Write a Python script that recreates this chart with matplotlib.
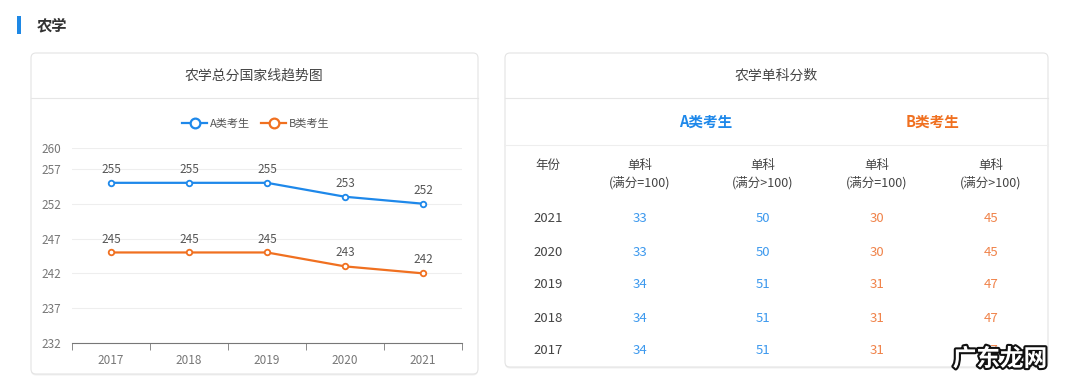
import matplotlib
matplotlib.use("Agg")
import matplotlib.pyplot as plt
from matplotlib.patches import FancyBboxPatch, Rectangle
from matplotlib.lines import Line2D
import matplotlib.patheffects as pe

plt.rcParams['font.family'] = ['Noto Sans CJK SC', 'DejaVu Sans']

# ---------------- 数据 ----------------
years = ['2017', '2018', '2019', '2020', '2021']
a_total = [255, 255, 255, 253, 252]
b_total = [245, 245, 245, 243, 242]
y_ticks = [232, 237, 242, 247, 252, 257, 260]

table_years = ['2021', '2020', '2019', '2018', '2017']
a_full100 = [33, 33, 34, 34, 34]
a_over100 = [50, 50, 51, 51, 51]
b_full100 = [30, 30, 31, 31, 31]
b_over100 = [45, 45, 47, 47, 47]

BLUE = '#1e88ea'
ORANGE = '#f07020'
BLUE_T = '#3d99ee'
ORANGE_T = '#f0834a'

W, H = 1080, 391
fig = plt.figure(figsize=(W / 100, H / 100), dpi=100)
fig.patch.set_facecolor('white')

# 背景层：像素坐标，原点左上
bg = fig.add_axes([0, 0, 1, 1])
bg.set_xlim(0, W)
bg.set_ylim(H, 0)
bg.axis('off')

# 小标题
bg.add_patch(Rectangle((17, 16), 4, 18, color='#1e88e5', lw=0))
bg.text(37, 25, '农学', fontsize=11, fontweight='bold', color='#333333', va='center')


def card(x0, y0, x1, y1):
    """带浅阴影的圆角卡片"""
    bg.add_patch(FancyBboxPatch((x0, y0 + 1.5), x1 - x0, y1 - y0, boxstyle='round,pad=0,rounding_size=5',
                                fc='#f0f0f0', ec='none', zorder=1))
    bg.add_patch(FancyBboxPatch((x0, y0), x1 - x0, y1 - y0, boxstyle='round,pad=0,rounding_size=5',
                                fc='white', ec='#e4e4e4', lw=0.8, zorder=2))


card(31, 53, 478, 374)
card(505, 53, 1048, 367)

# 左卡片标题
bg.text(254, 76, '农学总分国家线趋势图', fontsize=10, color='#444444', ha='center', va='center', zorder=3)
bg.plot([31, 478], [98, 98], color='#e6e6e6', lw=0.8, zorder=3)

# 右卡片：表格
bg.text(776, 76, '农学单科分数', fontsize=10, color='#444444', ha='center', va='center', zorder=3)
bg.plot([505, 1048], [98, 98], color='#e6e6e6', lw=0.8, zorder=3)
bg.plot([505, 1048], [145, 145], color='#eeeeee', lw=0.8, zorder=3)
bg.text(706, 122, 'A类考生', fontsize=10.5, fontweight='bold', color=BLUE, ha='center', va='center', zorder=3)
bg.text(933, 122, 'B类考生', fontsize=10.5, fontweight='bold', color=ORANGE, ha='center', va='center', zorder=3)

col_x = [548, 640, 763, 877, 991]
bg.text(col_x[0], 165, '年份', fontsize=9, color='#444444', ha='center', va='center', zorder=3)
sub = ['(满分=100)', '(满分>100)', '(满分=100)', '(满分>100)']
for cx, s in zip(col_x[1:], sub):
    bg.text(cx, 165, '单科', fontsize=9, color='#444444', ha='center', va='center', zorder=3)
    bg.text(cx, 183, s, fontsize=9, color='#444444', ha='center', va='center', zorder=3)

row_y = [218, 252, 285, 318, 351]
for i, ry in enumerate(row_y):
    bg.text(col_x[0], ry, table_years[i], fontsize=9.5, color='#444444', ha='center', va='center', zorder=3)
    bg.text(col_x[1], ry, str(a_full100[i]), fontsize=9.5, color=BLUE_T, ha='center', va='center', zorder=3)
    bg.text(col_x[2], ry, str(a_over100[i]), fontsize=9.5, color=BLUE_T, ha='center', va='center', zorder=3)
    bg.text(col_x[3], ry, str(b_full100[i]), fontsize=9.5, color=ORANGE_T, ha='center', va='center', zorder=3)
    bg.text(col_x[4], ry, str(b_over100[i]), fontsize=9.5, color=ORANGE_T, ha='center', va='center', zorder=3)

# 水印（原图中盖住了最后一个数字）
bg.text(1000, 359, '广东龙网', fontsize=17, fontweight='bold', color='white', ha='center', va='center',
        zorder=5, path_effects=[pe.withStroke(linewidth=3, foreground='#111111')])

# ---------------- 折线图 ----------------
ax = fig.add_axes([72 / W, 1 - 343 / H, (462 - 72) / W, (343 - 148) / H])
ax.set_zorder(4)
ax.patch.set_alpha(0)
x = list(range(len(years)))
ax.plot(x, a_total, color=BLUE, lw=1.6, marker='o', ms=4, mfc='white', mec=BLUE, mew=1.3, zorder=3)
ax.plot(x, b_total, color=ORANGE, lw=1.6, marker='o', ms=4, mfc='white', mec=ORANGE, mew=1.3, zorder=3)
for xi, v in zip(x, a_total):
    ax.annotate(str(v), (xi, v), xytext=(0, 5), textcoords='offset points', ha='center', va='bottom',
                fontsize=8.5, color='#555555')
for xi, v in zip(x, b_total):
    ax.annotate(str(v), (xi, v), xytext=(0, 5), textcoords='offset points', ha='center', va='bottom',
                fontsize=8.5, color='#555555')

ax.set_xlim(-0.5, len(years) - 0.5)
ax.set_ylim(y_ticks[0], y_ticks[-1])
ax.set_yticks(y_ticks)
ax.set_xticks(x)
ax.set_xticklabels(years)
ax.set_xticks([i - 0.5 for i in range(len(years) + 1)], minor=True)
ax.tick_params(axis='x', which='major', length=0, pad=8, labelsize=8.5, labelcolor='#777777')
ax.tick_params(axis='x', which='minor', length=5, color='#777777', direction='out')
ax.tick_params(axis='y', length=0, pad=8, labelsize=8.5, labelcolor='#777777')
ax.grid(axis='y', color='#eeeeee', lw=0.8)
ax.set_axisbelow(True)
for s in ['top', 'right', 'left']:
    ax.spines[s].set_visible(False)
ax.spines['bottom'].set_color('#777777')

handles = [
    Line2D([0], [0], color=BLUE, lw=1.6, marker='o', ms=7, mfc='white', mec=BLUE, mew=1.6, label='A类考生'),
    Line2D([0], [0], color=ORANGE, lw=1.6, marker='o', ms=7, mfc='white', mec=ORANGE, mew=1.6, label='B类考生'),
]
fig.legend(handles=handles, loc='center', bbox_to_anchor=(256 / W, 1 - 124 / H), ncol=2, frameon=False,
           fontsize=8, handlelength=2.2, columnspacing=1.0, handletextpad=0.3, labelcolor='#555555')

fig.savefig('out.png', dpi=100)
